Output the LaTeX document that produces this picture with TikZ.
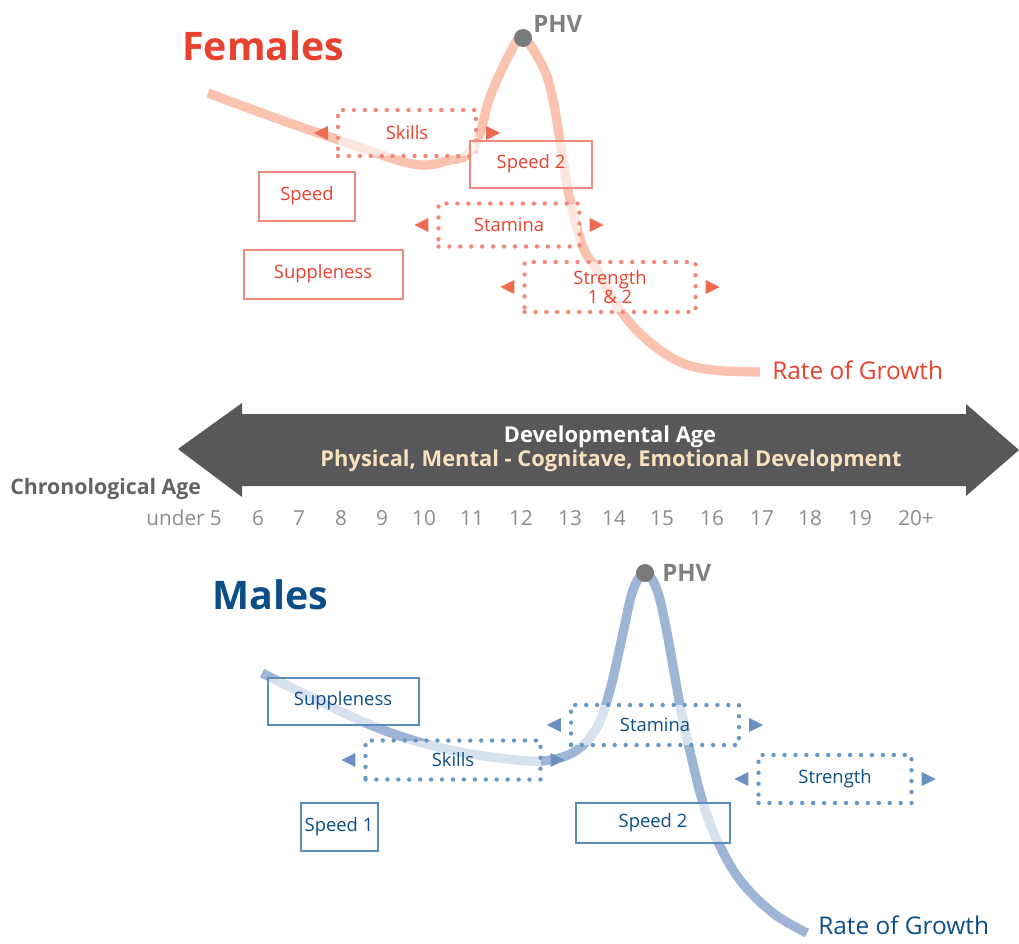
\documentclass[tikz,border=0pt]{standalone}
\usepackage{fontspec}
\setmainfont{Open Sans}
\usetikzlibrary{calc}
\definecolor{fRed}{RGB}{232,65,47}
\definecolor{fBorder}{RGB}{240,138,126}
\definecolor{fDot}{RGB}{243,135,122}
\definecolor{fArrow}{RGB}{238,106,82}
\definecolor{fCurve}{RGB}{249,195,175}
\definecolor{mBlue}{RGB}{13,78,134}
\definecolor{mBorder}{RGB}{91,139,187}
\definecolor{mDot}{RGB}{103,151,195}
\definecolor{mArrow}{RGB}{106,144,192}
\definecolor{mCurve}{RGB}{159,181,214}
\definecolor{bigGrey}{RGB}{88,88,90}
\definecolor{cream}{RGB}{248,226,190}
\definecolor{phvGrey}{RGB}{128,128,130}
\definecolor{chronoGrey}{RGB}{100,100,104}
\definecolor{numGrey}{RGB}{140,140,142}
\tikzset{
  basebox/.style={fill=white, fill opacity=0.6, text opacity=1, inner sep=0pt, align=center,
    font=\fontsize{13.8}{16}\selectfont},
  fsolid/.style={basebox, draw=fBorder, line width=1.5pt, text=fRed},
  fdotted/.style={basebox, draw=fDot, line width=3.3pt, dash pattern=on 0pt off 8.2pt, line cap=round, text=fRed},
  msolid/.style={basebox, draw=mBorder, line width=1.5pt, text=mBlue},
  mdotted/.style={basebox, draw=mDot, line width=3.3pt, dash pattern=on 0pt off 8.2pt, line cap=round, text=mBlue},
  growth/.style={line width=7pt, line cap=butt},
  phvdot/.style={circle, fill=phvGrey!95!black, minimum size=13.5pt, inner sep=0pt},
  phvtext/.style={text=phvGrey, font=\bfseries\fontsize{18}{20}\selectfont, inner sep=0pt},
  numlab/.style={text=numGrey, font=\fontsize{15.5}{17}\selectfont, inner sep=0pt},
}
\newcommand\sidearrows[2]{%
  \fill[#2] ($(#1.west)+(-8,-7)$) -- ++(0,14) -- ++(-14,-7) -- cycle;
  \fill[#2] ($(#1.east)+(8,-7)$) -- ++(0,14) -- ++(14,-7) -- cycle;
}
\begin{document}
\begin{tikzpicture}[x=0.75pt,y=-0.75pt]
\useasboundingbox (0,0) rectangle (1019,943);

% ---------------- Females ----------------
\node[text=fRed, font=\bfseries\fontsize{29.5}{34}\selectfont, inner sep=0pt, anchor=base west] (ftitle) at (182,60) {Females};

\draw[growth, fCurve] plot[smooth, tension=0.6] coordinates {
  (208,93) (270,116) (333,138) (413,164) (450,160) (467,155) (480,133) (490,97)
  (510,53) (523,38) (543,67) (553,100) (563,160) (570,200) (583,247) (597,270)
  (620,310) (647,340) (680,362) (713,370) (760,372)};

\node[fdotted, minimum width=138*0.75pt, minimum height=46*0.75pt] (fskills) at (407,133) {Skills};
\node[fsolid, minimum width=122*0.75pt, minimum height=47*0.75pt] (fspeedtwo) at (531,164) {Speed 2};
\node[fsolid, minimum width=96*0.75pt, minimum height=49*0.75pt] (fspeed) at (307,196) {Speed};
\node[fdotted, minimum width=141*0.75pt, minimum height=43*0.75pt] (fstamina) at (509,225) {Stamina};
\node[fsolid, minimum width=159*0.75pt, minimum height=49*0.75pt] (fsupple) at (323,274) {Suppleness};
\node[fdotted, minimum width=171*0.75pt, minimum height=50*0.75pt, font=\fontsize{13.8}{14}\selectfont] (fstrength) at (610,287) {Strength\\1 \& 2};

\sidearrows{fskills}{fArrow}
\sidearrows{fstamina}{fArrow}
\sidearrows{fstrength}{fArrow}

\node[phvdot] (fphv) at (523,38) {};
\node[phvtext, anchor=west] (fphvlab) at (533,24) {PHV};
\node[text=fRed, font=\fontsize{18.3}{20}\selectfont, inner sep=0pt, anchor=west] (fgrowth) at (772,370) {Rate of Growth};

% ---------------- Axis arrow ----------------
\fill[bigGrey] (178,449) -- (242,403) -- (242,414) -- (966,414) -- (966,404) -- (1019,450)
  -- (966,496) -- (966,486) -- (242,486) -- (242,497) -- cycle;
\node[text=white, font=\bfseries\fontsize{16.4}{18}\selectfont, inner sep=0pt] (devage) at (610,437) {Developmental Age};
\node[text=cream, font=\bfseries\fontsize{16.4}{18}\selectfont, inner sep=0pt] (devsub) at (611,461) {Physical, Mental - Cognitave, Emotional Development};
\node[text=chronoGrey, font=\bfseries\fontsize{16}{18}\selectfont, inner sep=0pt, anchor=west] (chrono) at (10,489) {Chronological Age};

\node[numlab, anchor=base east] (nunder) at (222,525) {under 5};
\foreach \n/\xx in {6/258,7/299,8/341,9/382,10/424,11/472,12/521,13/570,14/614,15/662,16/712,17/762,18/810,19/860,20+/916}
  \node[numlab, anchor=base] (n\n) at (\xx,525) {\n};

% ---------------- Males ----------------
\node[text=mBlue, font=\bfseries\fontsize{29.5}{34}\selectfont, inner sep=0pt, anchor=base west] (mtitle) at (212,609) {Males};

\draw[growth, mCurve] plot[smooth, tension=0.6] coordinates {
  (262,673) (317,700) (383,730) (450,750) (517,760) (550,760) (577,750) (597,727)
  (610,690) (623,633) (633,590) (645,573) (657,590) (667,633) (680,705) (692,760)
  (703,803) (717,840) (740,880) (773,913) (807,933)};

\node[msolid, minimum width=151*0.75pt, minimum height=47*0.75pt] (msupple) at (343,701) {Suppleness};
\node[mdotted, minimum width=175*0.75pt, minimum height=39*0.75pt] (mskills) at (453,760) {Skills};
\node[mdotted, minimum width=168*0.75pt, minimum height=40*0.75pt] (mstamina) at (655,725) {Stamina};
\node[mdotted, minimum width=153*0.75pt, minimum height=48*0.75pt] (mstrength) at (835,779) {Strength};
\node[msolid, minimum width=77*0.75pt, minimum height=48*0.75pt] (mspeedone) at (339,827) {Speed 1};
\node[msolid, minimum width=154*0.75pt, minimum height=40*0.75pt] (mspeedtwo) at (653,823) {Speed 2};

\sidearrows{mskills}{mArrow}
\sidearrows{mstamina}{mArrow}
\sidearrows{mstrength}{mArrow}

\node[phvdot] (mphv) at (645,573) {};
\node[phvtext, anchor=west] (mphvlab) at (662,573) {PHV};
\node[text=mBlue, font=\fontsize{18.3}{20}\selectfont, inner sep=0pt, anchor=west] (mgrowth) at (818,925) {Rate of Growth};
\end{tikzpicture}
\end{document}
